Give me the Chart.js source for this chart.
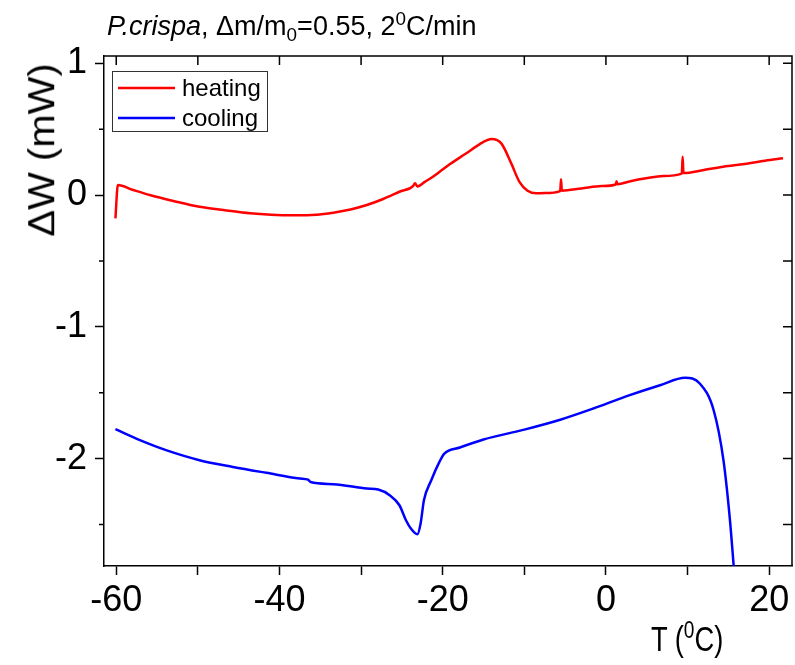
<!DOCTYPE html>
<html>
<head>
<meta charset="utf-8">
<script src="https://cdn.jsdelivr.net/npm/chart.js@4.4.1/dist/chart.umd.min.js"></script>
<style>
  html, body { margin: 0; padding: 0; background: #fff; }
  #wrap { position: relative; width: 795px; height: 665px; font-family: "Liberation Sans", Arial, sans-serif; }
  canvas { position: absolute; left: 0; top: 0; }
  .lbl { position: absolute; color: #000; white-space: nowrap; line-height: 1; }
  #title { left: 107px; top: 13px; font-size: 27px; }
  #ytitle { left: 42px; top: 150px; font-size: 40px; transform: translate(-50%, -50%) rotate(-90deg) scaleY(0.9); }
  #xtitle { left: 651px; top: 621px; font-size: 35px; transform: scaleX(0.78); transform-origin: left top; }
  sub, sup { font-size: 70%; line-height: 0; }
</style>
</head>
<body>
<div id="wrap">
  <canvas id="chart" width="795" height="665"></canvas>
  <div class="lbl" id="title"><i>P.crispa</i>, &Delta;m/m<sub>0</sub>=0.55, 2<sup>0</sup>C/min</div>
  <div class="lbl" id="ytitle">&Delta;W (mW)</div>
  <div class="lbl" id="xtitle">T (<sup>0</sup>C)</div>
</div>
<script>
// heating run, T in degC, dW in mW
const heatT = [-60.1, -59.8, -58, -55.9, -53, -49.8, -46.5, -43.6, -41, -38.3, -35.5, -33.4, -31.3, -29.3, -27.3, -25.3,
  -23.6, -23.4, -23.1, -22.2, -21.2, -20.4, -19.1, -17.1, -15.5, -14.0, -12.8, -11.6, -10.6, -9.6, -8.55, -7.5,
  -5.6, -5.5, -5.4, -3, -0.5, 1.2, 1.3, 1.4, 3, 4.9, 7, 9.3, 9.4, 9.5, 12, 14.4, 17, 19.5, 21.7];
const heatW = [-0.177, 0.076, 0.04, 0.0, -0.045, -0.089, -0.117, -0.139, -0.150, -0.154, -0.150, -0.134, -0.110, -0.076, -0.030, 0.025,
  0.070, 0.090, 0.065, 0.10, 0.139, 0.175, 0.235, 0.317, 0.385, 0.425, 0.39, 0.24, 0.10, 0.033, 0.013, 0.015,
  0.030, 0.12, 0.033, 0.05, 0.068, 0.080, 0.105, 0.082, 0.105, 0.127, 0.145, 0.163, 0.29, 0.167, 0.19, 0.215, 0.235, 0.26, 0.279];

// cooling run
const coolT = [-60.1, -57.1, -53.9, -49.8, -45.7, -41.6, -37.5, -36.5, -36.2, -33.4, -29.3, -27.9, -26.5, -25.3, -24.5, -23.9,
  -23.1, -22.7, -22.3, -21.4, -20.4, -19.8, -17.9, -15, -10, -5.6, -1.55, 2.55, 6.63, 9.7, 11.5, 13.2, 14.4, 15.2, 15.7];
const coolW = [-1.777, -1.86, -1.936, -2.012, -2.063, -2.108, -2.151, -2.160, -2.178, -2.194, -2.227, -2.235, -2.278, -2.354, -2.468, -2.531,
  -2.574, -2.49, -2.316, -2.164, -2.025, -1.962, -1.916, -1.855, -1.78, -1.705, -1.62, -1.526, -1.443, -1.387, -1.43, -1.633, -2.012, -2.468, -2.85];

const xTicksMajor = [-60, -40, -20, 0, 20];
const yTicksMinor = [-2.5, -1.5, -0.5, 0.5];

const pts = (xs, ys) => xs.map((x, i) => ({ x, y: ys[i] }));

// top/right frame with inward ticks, minor ticks on y, and the legend box
const framePlugin = {
  id: 'frame',
  afterDraw(chart) {
    const { ctx, chartArea: a, scales } = chart;
    ctx.save();
    ctx.strokeStyle = '#000';
    ctx.lineWidth = 1.5;
    ctx.beginPath();
    ctx.moveTo(a.left, a.top); ctx.lineTo(a.right, a.top); ctx.lineTo(a.right, a.bottom);
    scales.x.ticks.forEach((t) => {
      const px = scales.x.getPixelForValue(t.value);
      ctx.moveTo(px, a.top); ctx.lineTo(px, a.top + 9);
    });
    scales.y.ticks.forEach((t) => {
      const py = scales.y.getPixelForValue(t.value);
      ctx.moveTo(a.right, py); ctx.lineTo(a.right - 9, py);
    });
    yTicksMinor.forEach((v) => {
      const py = scales.y.getPixelForValue(v);
      ctx.moveTo(a.right, py); ctx.lineTo(a.right - 9, py);
      ctx.moveTo(a.left, py); ctx.lineTo(a.left - 5, py);
    });
    ctx.stroke();

    // legend
    ctx.lineWidth = 1;
    ctx.strokeStyle = '#333';
    ctx.strokeRect(112.5, 71.5, 155, 60);
    ctx.font = '24px "Liberation Sans", Arial, sans-serif';
    ctx.textBaseline = 'middle';
    chart.data.datasets.forEach((ds, i) => {
      const y = 88 + i * 30;
      ctx.strokeStyle = ds.borderColor;
      ctx.lineWidth = 2.5;
      ctx.beginPath(); ctx.moveTo(118, y); ctx.lineTo(175, y); ctx.stroke();
      ctx.fillStyle = '#000';
      ctx.fillText(ds.label, 182, y + 1);
    });
    ctx.restore();
  },
};

new Chart(document.getElementById('chart'), {
  type: 'line',
  data: {
    datasets: [
      { label: 'heating', data: pts(heatT, heatW), borderColor: '#ff0000', borderWidth: 2.5, pointRadius: 0, cubicInterpolationMode: 'monotone' },
      { label: 'cooling', data: pts(coolT, coolW), borderColor: '#0000ff', borderWidth: 2.5, pointRadius: 0, cubicInterpolationMode: 'monotone' },
    ],
  },
  plugins: [framePlugin],
  options: {
    responsive: false,
    animation: false,
    layout: { padding: { left: 0, top: 56, right: 3, bottom: 0 } },
    plugins: { legend: { display: false }, tooltip: { enabled: false } },
    scales: {
      x: {
        type: 'linear',
        min: -61.5,
        max: 22.8,
        afterFit: (s) => { s.height = 99; },
        border: { display: true, color: '#000', width: 1.5 },
        grid: { drawOnChartArea: false, drawTicks: true, tickLength: 9, tickColor: '#000', tickWidth: 1.5 },
        ticks: {
          stepSize: 10,
          includeBounds: false,
          autoSkip: false,
          maxRotation: 0,
          padding: 4,
          color: '#000',
          font: { family: '"Liberation Sans", Arial, sans-serif', size: 36 },
          callback: (v) => (xTicksMajor.includes(v) ? String(v) : ''),
        },
      },
      y: {
        type: 'linear',
        min: -2.815,
        max: 1.055,
        afterFit: (s) => { s.width = 104; },
        border: { display: true, color: '#000', width: 1.5 },
        grid: { drawOnChartArea: false, drawTicks: true, tickLength: 9, tickColor: '#000', tickWidth: 1.5 },
        ticks: {
          stepSize: 1,
          includeBounds: false,
          padding: 8,
          color: '#000',
          font: { family: '"Liberation Sans", Arial, sans-serif', size: 36 },
          callback: (v) => String(v),
        },
      },
    },
  },
});
</script>
</body>
</html>
